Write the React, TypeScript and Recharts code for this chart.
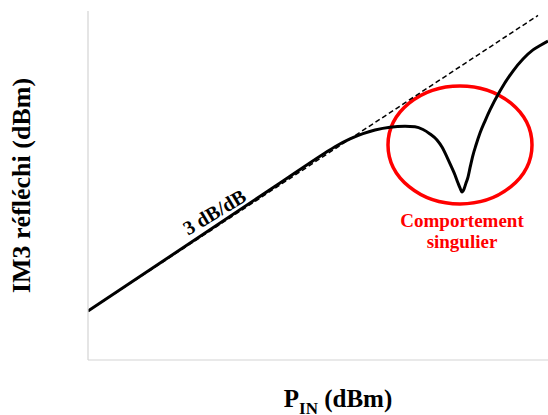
import React from 'react';
import { ComposedChart, Line, XAxis, YAxis, ReferenceArea, ReferenceDot, Label } from 'recharts';

// P_IN (dBm) and reflected IM3 (dBm)
const pin = [-20, -0.8, 3.7, 4.7, 6.2, 7.5, 8.7, 10.2, 11.7, 12.7, 13.5, 14.2, 14.9, 15.4, 15.9, 16.3, 16.7, 17.0, 17.2, 17.4, 17.6, 17.8, 18.0, 18.2, 18.5, 18.8, 19.2, 19.7, 20.2, 21.2, 22.5, 23.5, 24.5, 25.3, 26];
const im3 = [-98, -40.4, -26.86, -24.04, -20.54, -18.15, -16.53, -15.27, -14.87, -15.09, -16.3, -18.3, -21.0, -24.2, -28.7, -32.7, -36.8, -40.4, -42.6, -44.4, -43.1, -40.4, -37.7, -33.6, -27.8, -23.3, -17.9, -12.5, -7.5, 1.0, 10.0, 15.4, 19.5, 21.7, 23.5];

// 3 dB/dB asymptote
const asymPin = [-20, 25];
const asymIm3 = [-98, 35];

// singular zone (ellipse bounds)
const zoneX = [10, 24.4];
const zoneY = [-49.8, 3.3];

const xDomain = [-20, 26];
const yDomain = [-120, 37];

const curveData = pin.map((x, i) => ({ x, y: im3[i] }));
const asymData = asymPin.map((x, i) => ({ x, y: asymIm3[i] }));

const FONT = '"Liberation Serif", "Times New Roman", serif';
const RED = '#ff0000';

const EllipseShape = (p: any) => (
  <ellipse
    cx={p.x + p.width / 2}
    cy={p.y + p.height / 2}
    rx={p.width / 2}
    ry={p.height / 2}
    fill="none"
    stroke={RED}
    strokeWidth={3.5}
  />
);

const NoteShape = (p: any) => (
  <text x={p.cx} y={p.cy} textAnchor="middle" fontFamily={FONT} fontWeight="bold" fontSize={19} fill={RED}>
    <tspan x={p.cx} dy={0}>Comportement</tspan>
    <tspan x={p.cx} dy={21}>singulier</tspan>
  </text>
);

const SlopeShape = (p: any) => (
  <text
    x={p.cx}
    y={p.cy}
    textAnchor="middle"
    fontFamily={FONT}
    fontWeight="bold"
    fontSize={20}
    fill="#000"
    transform={`rotate(-31 ${p.cx} ${p.cy})`}
  >
    3 dB/dB
  </text>
);

const YLabel = (props: any) => {
  const vb = props.viewBox || { x: 88, y: 11, height: 349 };
  const cx = vb.x - 66;
  const cy = vb.y + vb.height / 2;
  return (
    <text
      x={cx}
      y={cy}
      textAnchor="middle"
      dominantBaseline="central"
      fontFamily={FONT}
      fontWeight="bold"
      fontSize={26}
      fill="#000"
      transform={`rotate(-90 ${cx} ${cy})`}
    >
      IM3 réfléchi (dBm)
    </text>
  );
};

const XLabel = (props: any) => {
  const vb = props.viewBox || { x: 88, y: 360, width: 460 };
  const cx = vb.x + 250;
  const cy = vb.y + 47;
  return (
    <text x={cx} y={cy} textAnchor="middle" fontFamily={FONT} fontWeight="bold" fontSize={25} fill="#000">
      P
      <tspan fontSize={17} dy={7}>IN</tspan>
      <tspan dy={-7}> (dBm)</tspan>
    </text>
  );
};

export default function App() {
  return (
    <div style={{ position: 'absolute', left: 0, top: 0, background: '#fff' }}>
      <ComposedChart width={548} height={415} margin={{ top: 11, right: 0, bottom: 54, left: 87 }}>
        <XAxis
          type="number"
          dataKey="x"
          domain={xDomain}
          allowDataOverflow
          height={1}
          tick={false}
          tickLine={false}
          axisLine={{ stroke: '#d4d4d4', strokeWidth: 1.2 }}
        >
          <Label content={XLabel} />
        </XAxis>
        <YAxis
          type="number"
          dataKey="y"
          domain={yDomain}
          allowDataOverflow
          width={1}
          tick={false}
          tickLine={false}
          axisLine={{ stroke: '#d4d4d4', strokeWidth: 1.2 }}
        >
          <Label content={YLabel} />
        </YAxis>
        <Line
          data={asymData}
          dataKey="y"
          type="linear"
          stroke="#000"
          strokeWidth={1.5}
          strokeDasharray="5 3"
          dot={false}
          isAnimationActive={false}
        />
        <Line
          data={curveData}
          dataKey="y"
          type="monotone"
          stroke="#000"
          strokeWidth={3}
          dot={false}
          isAnimationActive={false}
        />
        <ReferenceArea x1={zoneX[0]} x2={zoneX[1]} y1={zoneY[0]} y2={zoneY[1]} shape={EllipseShape} />
        <ReferenceDot x={17.4} y={-60.3} r={0} shape={NoteShape} />
        <ReferenceDot x={-7} y={-56.1} r={0} shape={SlopeShape} />
      </ComposedChart>
    </div>
  );
}
